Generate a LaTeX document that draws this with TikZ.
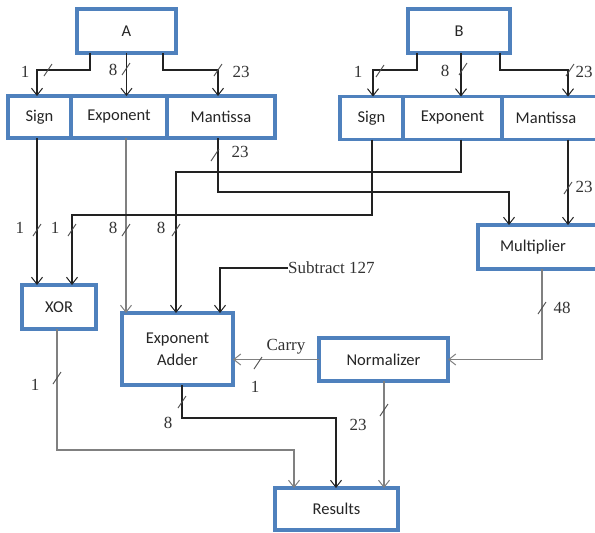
\documentclass[tikz,border=0pt]{standalone}
\usepackage{fontspec}
\setmainfont{Liberation Serif}
\newfontfamily\boxfont{Carlito}
\usetikzlibrary{arrows.meta}
\definecolor{boxblue}{HTML}{4F81BD}
\definecolor{wire}{HTML}{222222}
\definecolor{greywire}{HTML}{808080}
\tikzset{
  blk/.style={draw=boxblue, line width=3.2pt, fill=white, inner sep=0pt, outer sep=0pt,
              font=\boxfont\fontsize{16.5}{18}\selectfont, align=center, text=black!85},
  arr/.style={draw=wire, line width=1.1pt, -{Straight Barb[length=7pt,width=11pt,line width=1pt]}},
  garr/.style={arr, draw=greywire},
  lbl/.style={font=\fontsize{17}{19}\selectfont, inner sep=0pt, text=black!80},
  bus/.pic={\draw[line width=0.9pt, draw=black!70] (-4,6) -- (4,-6);}
}
\begin{document}
\begin{tikzpicture}[x=1pt,y=-1pt]
\useasboundingbox (0,0) rectangle (595,533);
% input registers
\node[blk, minimum width=99pt, minimum height=44pt] (A) at (126.5,31) {A};
\node[blk, minimum width=102pt, minimum height=44pt] (B) at (459,31) {B};
% field boxes of A
\node[blk, minimum width=63pt, minimum height=42pt] (As) at (39.5,117) {Sign};
\node[blk, minimum width=96pt, minimum height=42pt] (Ae) at (119,117) {Exponent};
\node[blk, minimum width=108pt, minimum height=42pt] (Am) at (221,117) {Mantissa};
% field boxes of B
\node[blk, minimum width=63pt, minimum height=43pt] (Bs) at (371.5,118) {Sign};
\node[blk, minimum width=99pt, minimum height=43pt] (Be) at (452.5,118) {Exponent};
\node[blk, minimum width=98pt, minimum height=43pt] (Bm) at (551,118) {Mantissa\hspace*{10pt}};
% processing blocks
\node[blk, minimum width=122pt, minimum height=44pt] (Mult) at (539,247) {Multiplier\hspace*{12pt}};
\node[blk, minimum width=74pt, minimum height=44pt] (XOR) at (59,307) {XOR};
\node[blk, minimum width=111pt, minimum height=72pt] (Adder) at (177.5,349) {Exponent\\[4pt]Adder};
\node[blk, minimum width=129pt, minimum height=43pt] (Norm) at (383.5,359.5) {Normalizer};
\node[blk, minimum width=123pt, minimum height=42pt] (Res) at (336.5,509) {Results};
\node[lbl, anchor=west] (Sub) at (288,268) {Subtract 127};

% A -> fields
\draw[arr] (A.south -| 90,0) -- (90,70) -| (As.north -| 37,0);
\draw[arr] (A.south) -- (A.south |- Ae.north);
\draw[arr] (A.south -| 163,0) -- (163,70) -| (Am.north -| 218,0);
% B -> fields
\draw[arr] (B.south -| 417,0) -- (417,70) -| (Bs.north -| 373,0);
\draw[arr] (B.south -| 461,0) -- (Be.north -| 461,0);
\draw[arr] (B.south -| 500,0) -- (500,70) -| (Bm.north -| 568,0);

% fields -> blocks
\draw[arr] (As.south -| 37,0) -- (XOR.north -| 37,0);
\draw[garr] (Ae.south -| 126,0) -- (Adder.north -| 126,0);
\draw[arr] (Be.south -| 461,0) -- (461,172) -| (Adder.north -| 176,0);
\draw[arr] (Am.south -| 218,0) -- (218,192) -| (Mult.north -| 509,0);
\draw[arr] (Bs.south -| 372,0) -- (372,215) -| (XOR.north -| 72,0);
\draw[arr] (Bm.south -| 568,0) -- (Mult.north -| 568,0);
\draw[arr] (Sub.west) -| (Adder.north -| 220,0);
\draw[garr] (Mult.south -| 542,0) |- (Norm.east);
\draw[garr] (Norm.west) -- (Norm.west -| Adder.east);
\draw[garr] (XOR.south -| 57,0) -- (57,450) -| (Res.north -| 294,0);
\draw[arr] (Adder.south -| 182,0) -- (182,418) -| (Res.north -| 336,0);
\draw[garr] (Norm.south -| 384,0) -- (Res.north -| 384,0);

% bus width marks
\pic at (48,70) {bus};   \node[lbl] (l1) at (25,72) {1};
\pic at (126,69) {bus};  \node[lbl] (l2) at (113,70) {8};
\pic at (218,70) {bus};  \node[lbl] (l3) at (241,72) {23};
\pic at (380,71) {bus};  \node[lbl] (l4) at (358,72) {1};
\pic at (463,69) {bus};  \node[lbl] (l5) at (445,71) {8};
\pic at (570,70) {bus};  \node[lbl] (l6) at (584,72) {23};
\pic at (215,155) {bus}; \node[lbl] (l7) at (240,152) {23};
\pic at (568,188) {bus}; \node[lbl] (l8) at (584,187) {23};
\pic at (37,230) {bus};  \node[lbl] (l9) at (20,228) {1};
\pic at (72,230) {bus};  \node[lbl] (l10) at (55,228) {1};
\pic at (126,230) {bus}; \node[lbl] (l11) at (113,228) {8};
\pic at (176,230) {bus}; \node[lbl] (l12) at (161,228) {8};
\pic at (542,308) {bus}; \node[lbl] (l13) at (562,308) {48};
\pic at (258,363) {bus}; \node[lbl] (l14) at (286,347) {Carry};
\node[lbl] (l15) at (255,387) {1};
\pic at (57,378) {bus};  \node[lbl] (l16) at (35,385) {1};
\pic at (182,402) {bus}; \node[lbl] (l17) at (168,423) {8};
\pic at (384,410) {bus}; \node[lbl] (l18) at (358,425) {23};
\end{tikzpicture}
\end{document}
